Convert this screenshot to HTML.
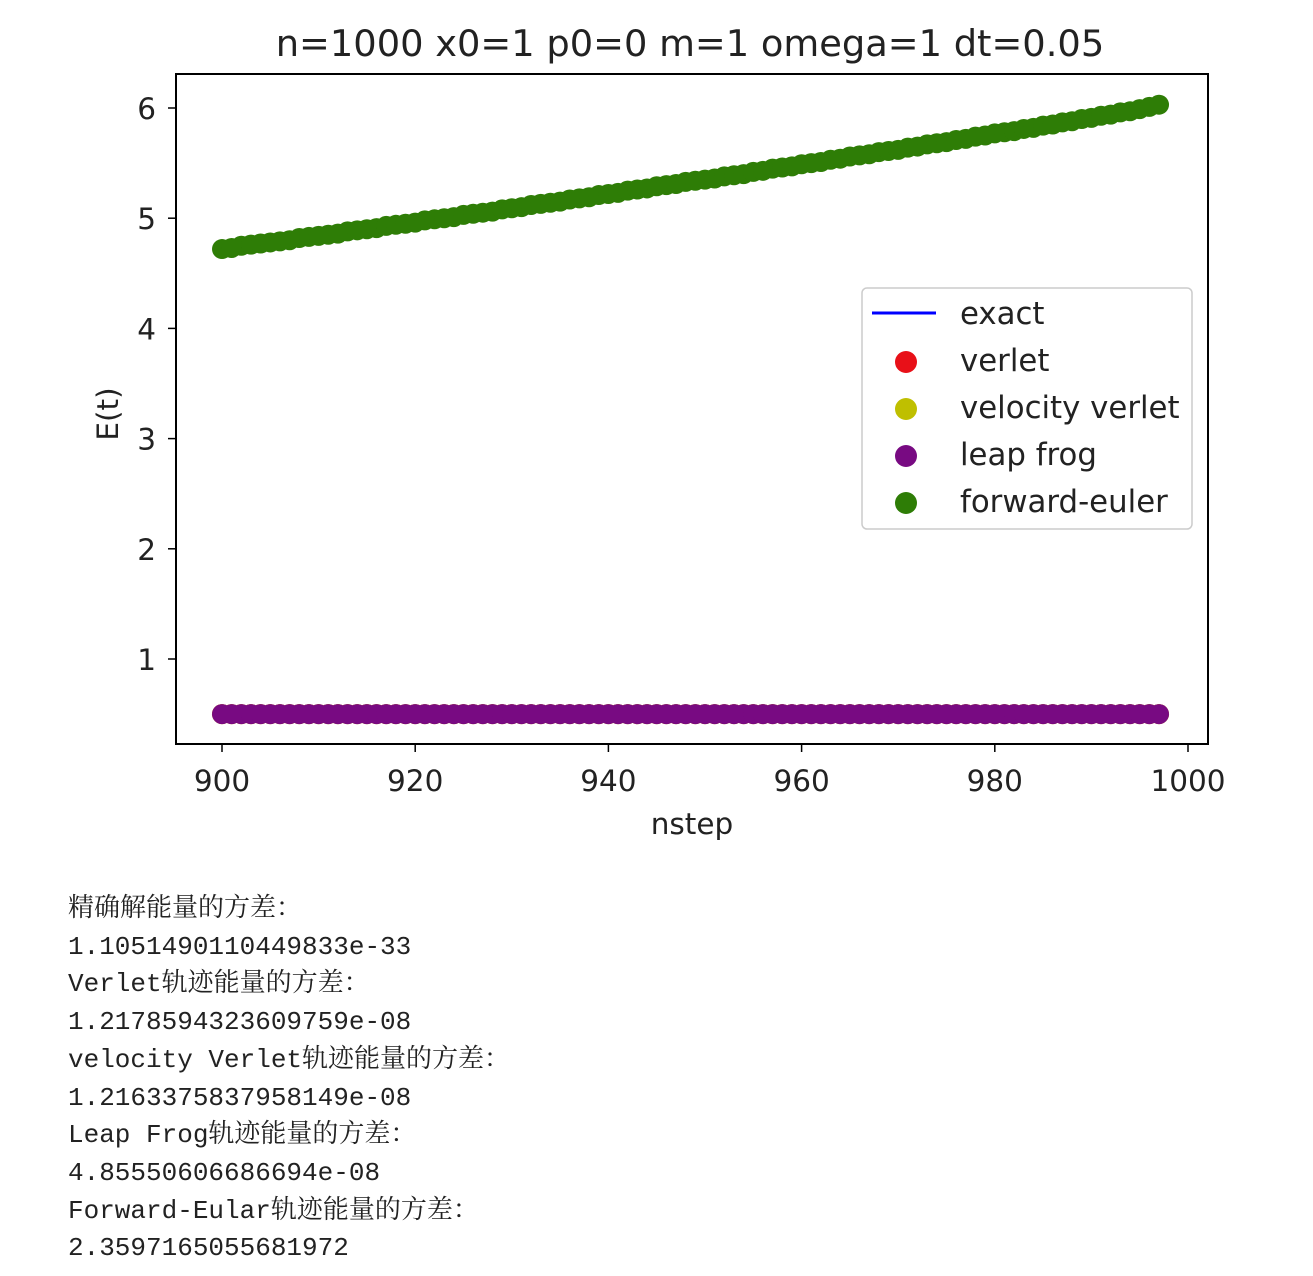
<!DOCTYPE html>
<html><head><meta charset="utf-8"><style>
body{margin:0;background:#fff;width:1313px;height:1276px;overflow:hidden}
svg text{font-family:"DejaVu Sans","Liberation Sans",sans-serif;fill:#222}
#out{position:absolute;left:68px;top:891px;font-family:"Liberation Mono","Noto Serif CJK SC",monospace;font-size:26px;line-height:37.7px;color:#222;white-space:pre}
</style></head><body>
<svg id="chart" width="1313" height="870" style="position:absolute;left:0;top:0"></svg>
<div id="out">精确解能量的方差：
1.1051490110449833e-33
Verlet轨迹能量的方差：
1.2178594323609759e-08
velocity Verlet轨迹能量的方差：
1.2163375837958149e-08
Leap Frog轨迹能量的方差：
4.85550606686694e-08
Forward-Eular轨迹能量的方差：
2.3597165055681972</div>
<script>
const steps=[900,901,902,903,904,905,906,907,908,909,910,911,912,913,914,915,916,917,918,919,920,921,922,923,924,925,926,927,928,929,930,931,932,933,934,935,936,937,938,939,940,941,942,943,944,945,946,947,948,949,950,951,952,953,954,955,956,957,958,959,960,961,962,963,964,965,966,967,968,969,970,971,972,973,974,975,976,977,978,979,980,981,982,983,984,985,986,987,988,989,990,991,992,993,994,995,996,997];
const euler=[4.72,4.73,4.75,4.76,4.77,4.78,4.79,4.80,4.82,4.83,4.84,4.85,4.86,4.88,4.89,4.90,4.91,4.93,4.94,4.95,4.96,4.98,4.99,5.00,5.01,5.03,5.04,5.05,5.06,5.08,5.09,5.10,5.12,5.13,5.14,5.15,5.17,5.18,5.19,5.21,5.22,5.23,5.25,5.26,5.27,5.29,5.30,5.31,5.33,5.34,5.35,5.36,5.38,5.39,5.40,5.42,5.43,5.45,5.46,5.47,5.49,5.50,5.51,5.53,5.54,5.56,5.57,5.58,5.60,5.61,5.62,5.64,5.65,5.67,5.68,5.69,5.71,5.72,5.74,5.75,5.77,5.78,5.79,5.81,5.82,5.84,5.85,5.87,5.88,5.90,5.91,5.93,5.94,5.96,5.97,5.99,6.01,6.03];
const exact=steps.map(()=>0.5);
const verlet=steps.map(()=>0.5);
const velVerlet=steps.map(()=>0.5);
const leapFrog=steps.map(()=>0.5);
const xTicks=[900,920,940,960,980,1000];
const yTicks=[1,2,3,4,5,6];
const L=176,R=1208,T=74,B=744;
const sx=v=>222+(v-900)*9.66;
const sy=v=>659-(v-1)*110.2;
const NS="http://www.w3.org/2000/svg";
const svg=document.getElementById('chart');
function mk(tag,attrs,parent){const e=document.createElementNS(NS,tag);for(const k in attrs)e.setAttribute(k,attrs[k]);(parent||svg).appendChild(e);return e;}
function txt(s,attrs,name){const e=mk('text',attrs);e.textContent=s;return e;}
txt('n=1000 x0=1 p0=0 m=1 omega=1 dt=0.05',{x:690,y:56,'text-anchor':'middle','font-size':36.8},'chart-title');
xTicks.forEach(v=>{const l=mk('line',{x1:sx(v),x2:sx(v),y1:B,y2:B+8,stroke:'#000','stroke-width':1.5});
 txt(String(v),{x:sx(v),y:791,'text-anchor':'middle','font-size':29.5},'x-tick-label');});
yTicks.forEach(v=>{const l=mk('line',{x1:L-8,x2:L,y1:sy(v),y2:sy(v),stroke:'#000','stroke-width':1.5});
 txt(String(v),{x:156,y:sy(v)+11,'text-anchor':'end','font-size':29.5},'y-tick-label');});
txt('nstep',{x:692,y:834,'text-anchor':'middle','font-size':29.5},'x-axis-title');
txt('E(t)',{x:0,y:0,'text-anchor':'middle','font-size':29.5,transform:'translate(118,414) rotate(-90)'},'y-axis-title');
const ex=mk('polyline',{points:steps.map((s,i)=>sx(s)+','+sy(exact[i])).join(' '),fill:'none',stroke:'#0000ff','stroke-width':3});

function scatter(vals,color,name){const g=mk('g',{fill:color});
 steps.forEach((s,i)=>{const c=mk('circle',{cx:sx(s),cy:sy(vals[i]),r:10},g);});}
scatter(verlet,'#e81018','verlet');
scatter(velVerlet,'#bfbf00','velocity-verlet');
scatter(leapFrog,'#780a82','leap-frog');
scatter(euler,'#2e7d06','forward-euler');
const fr=mk('rect',{x:L,y:T,width:R-L,height:B-T,fill:'none',stroke:'#000','stroke-width':2});

const lg=mk('g',{});
mk('rect',{x:862,y:288,width:330,height:241,rx:5,fill:'#fff','fill-opacity':0.8,stroke:'#ccc','stroke-width':1.5},lg);
mk('line',{x1:872,x2:936,y1:313,y2:313,stroke:'#0000ff','stroke-width':3},lg);
const items=[['exact',null],['verlet','#e81018'],['velocity verlet','#bfbf00'],['leap frog','#780a82'],['forward-euler','#2e7d06']];
items.forEach((it,i)=>{const y=313+i*47;
 if(it[1])mk('circle',{cx:906,cy:y+2,r:11,fill:it[1]},lg);
 const t=mk('text',{x:960,y:y+11,'font-size':30.8},lg);t.textContent=it[0];
 });
</script>
</body></html>
